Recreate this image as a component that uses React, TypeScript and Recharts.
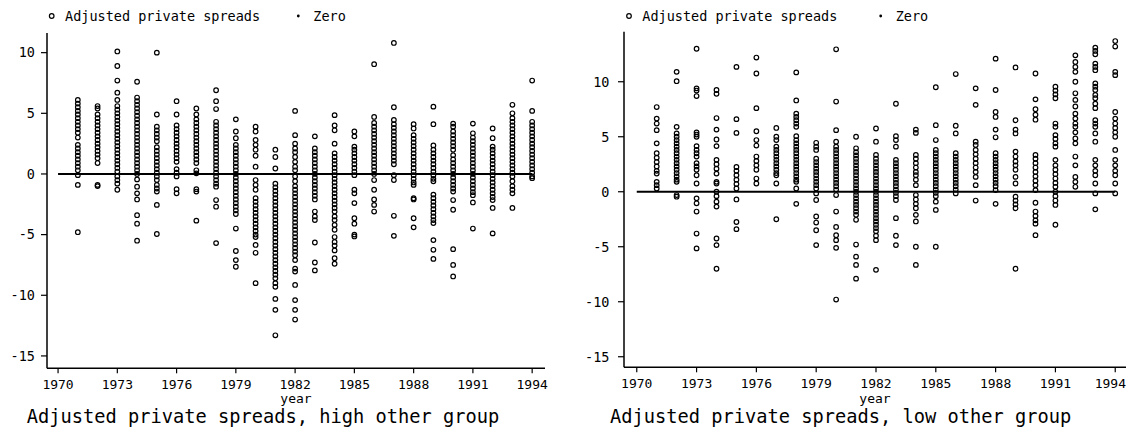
import React from 'react';
import { ScatterChart, Scatter, XAxis, YAxis } from 'recharts';

// Years with observations (one column of points per year)
const YEARS = [
  1971, 1972, 1973, 1974, 1975, 1976, 1977, 1978, 1979, 1980, 1981, 1982,
  1983, 1984, 1985, 1986, 1987, 1988, 1989, 1990, 1991, 1992, 1993, 1994,
];

// Years spanned by the zero reference line
const ZERO_YEARS = [
  1970, 1971, 1972, 1973, 1974, 1975, 1976, 1977, 1978, 1979, 1980, 1981, 1982,
  1983, 1984, 1985, 1986, 1987, 1988, 1989, 1990, 1991, 1992, 1993, 1994,
];

const YEAR_TICKS = [1970, 1973, 1976, 1979, 1982, 1985, 1988, 1991, 1994];
const SPREAD_TICKS = [-15, -10, -5, 0, 5, 10];

// Adjusted private spreads, high other group (one array per year)
const HIGH_OTHER: number[][] = [
  [6.1, 5.8, 5.5, 5.2, 4.9, 4.6, 4.3, 4.0, 3.7, 3.4, 3.0, 2.4, 2.1, 1.8, 1.5, 1.2, 0.9, 0.6, 0.3, -0.1, -0.9, -4.8],
  [5.6, 5.4, 4.9, 4.6, 4.3, 4.0, 3.7, 3.4, 3.1, 2.8, 2.5, 2.2, 1.9, 1.6, 1.3, 0.9, -0.9, -1.0],
  [10.1, 8.9, 7.7, 6.7, 6.1, 5.6, 5.3, 5.0, 4.7, 4.4, 4.1, 3.8, 3.5, 3.2, 2.9, 2.6, 2.3, 2.0, 1.7, 1.4, 1.1, 0.8, 0.5, 0.2, -0.2, -0.5, -0.8, -1.3],
  [7.6, 6.3, 6.0, 5.7, 5.4, 5.1, 4.8, 4.5, 4.2, 3.9, 3.6, 3.3, 3.0, 2.7, 2.4, 2.1, 1.8, 1.5, 1.2, 0.9, 0.6, 0.3, 0.0, -0.45, -1.05, -1.6, -2.1, -3.4, -4.1, -5.5],
  [10.0, 4.9, 3.9, 3.6, 3.3, 3.0, 2.7, 2.2, 1.9, 1.6, 1.3, 1.0, 0.7, 0.4, 0.1, -0.2, -0.5, -0.9, -1.2, -1.45, -2.55, -4.95],
  [6.0, 4.9, 4.0, 3.7, 3.4, 3.1, 2.8, 2.5, 2.2, 1.9, 1.6, 1.3, 1.0, 0.4, 0.1, -0.2, -1.25, -1.6],
  [5.4, 4.9, 4.5, 4.2, 3.9, 3.6, 3.3, 3.0, 2.7, 2.4, 2.1, 1.8, 1.5, 1.2, 0.9, 0.3, 0.05, -1.25, -1.45, -3.85],
  [6.9, 6.0, 5.35, 4.3, 4.0, 3.7, 3.4, 3.1, 2.8, 2.5, 2.2, 1.9, 1.6, 1.3, 1.0, 0.7, 0.4, 0.1, -0.2, -0.5, -0.8, -1.05, -2.15, -2.7, -5.7],
  [4.5, 3.5, 2.95, 2.4, 2.1, 1.8, 1.5, 1.2, 0.9, 0.6, 0.3, 0.0, -0.3, -0.6, -0.9, -1.2, -1.5, -1.8, -2.1, -2.4, -2.7, -3.0, -3.3, -4.5, -6.35, -7.1, -7.65],
  [3.9, 3.5, 2.8, 2.4, 2.0, 1.5, 0.6, -0.5, -0.9, -1.3, -2.0, -2.3, -2.6, -2.9, -3.2, -3.5, -3.8, -4.1, -4.4, -4.7, -5.0, -5.2, -5.85, -6.5, -9.0],
  [2.0, 1.4, 0.45, -0.8, -1.1, -1.4, -1.7, -2.0, -2.3, -2.6, -2.9, -3.2, -3.5, -3.8, -4.1, -4.4, -4.7, -5.0, -5.3, -5.6, -5.9, -6.2, -6.5, -6.8, -7.1, -7.4, -7.7, -8.0, -8.3, -8.6, -9.0, -9.3, -10.3, -11.2, -13.3],
  [5.2, 3.2, 2.5, 2.1, 1.8, 1.4, 1.0, 0.6, 0.3, -0.2, -0.6, -1.0, -1.3, -1.6, -1.9, -2.2, -2.5, -2.8, -3.1, -3.4, -3.7, -4.0, -4.3, -4.6, -4.9, -5.2, -5.5, -5.8, -6.1, -6.4, -6.7, -7.1, -7.8, -8.05, -9.15, -10.4, -11.2, -12.0],
  [3.1, 2.1, 1.8, 1.5, 1.2, 0.9, 0.6, 0.3, 0.0, -0.3, -0.6, -0.9, -1.2, -1.5, -1.8, -2.1, -3.1, -3.5, -3.8, -5.65, -7.3, -7.95],
  [4.85, 4.0, 3.6, 2.5, 1.7, 1.4, 1.1, 0.8, 0.5, 0.2, -0.1, -0.4, -0.7, -1.0, -1.3, -1.6, -1.9, -2.2, -2.5, -2.8, -3.1, -3.5, -3.8, -4.2, -4.6, -5.2, -5.6, -5.9, -6.3, -6.95, -7.4],
  [3.5, 3.1, 2.25, 2.0, 1.7, 1.4, 1.1, 0.8, 0.5, 0.2, -0.1, -1.3, -1.6, -2.4, -3.65, -4.1, -5.0, -5.15],
  [9.05, 4.7, 4.2, 3.9, 3.6, 3.3, 3.0, 2.7, 2.4, 2.1, 1.8, 1.5, 1.2, 0.9, 0.6, 0.3, 0.0, -0.5, -1.3, -2.1, -2.55, -3.1],
  [10.8, 5.5, 4.45, 4.1, 3.8, 3.5, 3.2, 2.9, 2.6, 2.3, 2.0, 1.7, 1.4, 1.1, 0.8, -0.1, -0.5, -3.45, -5.1],
  [4.1, 3.75, 3.2, 2.9, 2.6, 2.3, 2.0, 1.7, 1.4, 1.1, 0.8, 0.5, 0.2, -0.1, -0.4, -0.7, -0.9, -2.0, -2.1, -3.65, -4.4],
  [5.55, 4.1, 2.35, 2.0, 1.7, 1.4, 1.1, 0.8, 0.5, 0.2, -0.1, -0.4, -0.6, -1.7, -2.0, -2.3, -2.6, -2.9, -3.2, -3.5, -3.8, -4.05, -5.45, -6.25, -7.0],
  [4.15, 3.9, 3.5, 3.2, 2.9, 2.6, 2.3, 2.0, 1.55, 1.2, 0.9, 0.6, 0.3, 0.0, -0.3, -0.6, -0.9, -1.2, -1.45, -2.15, -2.95, -6.2, -7.5, -8.45],
  [4.15, 3.35, 3.0, 2.7, 2.4, 2.1, 1.8, 1.5, 1.2, 0.9, 0.6, 0.3, 0.0, -0.3, -0.6, -0.9, -1.2, -1.5, -1.75, -2.35, -4.5],
  [3.75, 2.95, 2.25, 2.0, 1.7, 1.4, 1.1, 0.8, 0.5, 0.2, -0.1, -0.4, -0.7, -1.0, -1.3, -1.6, -1.9, -2.15, -2.8, -4.9],
  [5.7, 5.0, 4.6, 4.3, 4.0, 3.7, 3.4, 3.1, 2.8, 2.5, 2.2, 1.9, 1.6, 1.3, 1.0, 0.7, 0.4, 0.1, -0.2, -0.6, -1.0, -1.3, -1.6, -2.8],
  [7.7, 5.2, 4.3, 4.0, 3.7, 3.4, 3.1, 2.8, 2.5, 2.2, 1.9, 1.6, 1.3, 1.0, 0.7, 0.4, 0.1, -0.2, -0.35],
];

// Adjusted private spreads, low other group (one array per year)
const LOW_OTHER: number[][] = [
  [7.7, 6.65, 6.2, 5.6, 4.4, 3.5, 3.1, 2.7, 2.3, 1.9, 1.65, 0.9, 0.6, 0.3],
  [10.9, 10.05, 5.9, 5.3, 5.0, 4.7, 4.4, 4.1, 3.8, 3.5, 3.2, 2.9, 2.6, 2.3, 2.0, 1.7, 1.4, 1.1, 0.9, -0.3, -0.45],
  [13.0, 9.4, 9.2, 8.7, 5.4, 5.2, 5.0, 4.15, 3.8, 3.5, 3.2, 2.6, 2.3, 2.0, 1.5, 0.75, -0.6, -1.05, -1.8, -3.8, -5.15],
  [9.25, 8.9, 6.7, 5.65, 4.75, 4.15, 2.9, 2.5, 2.1, 1.65, 0.9, 0.75, 0.0, -0.4, -0.9, -1.35, -4.25, -4.85, -7.0],
  [11.35, 6.6, 5.35, 2.25, 1.9, 1.5, 1.1, 0.7, 0.3, -0.7, -2.75, -3.4],
  [12.2, 10.75, 7.6, 5.5, 4.7, 4.2, 3.2, 2.8, 2.4, 2.0, 1.2, 0.75],
  [5.8, 5.0, 4.7, 4.1, 3.8, 3.5, 3.2, 2.9, 2.6, 2.3, 2.0, 1.7, 1.5, 0.75, -2.5],
  [10.85, 8.3, 7.1, 6.8, 6.5, 6.2, 5.9, 5.05, 4.7, 4.4, 4.1, 3.8, 3.5, 3.2, 2.9, 2.6, 2.3, 2.0, 1.7, 1.4, 1.1, 0.9, 0.3, -1.1],
  [4.45, 4.1, 3.8, 3.0, 2.7, 2.4, 2.1, 1.8, 1.5, 1.2, 0.9, 0.6, 0.3, -0.15, -0.75, -2.25, -2.8, -3.5, -4.85],
  [12.95, 8.2, 5.6, 4.55, 4.1, 3.8, 3.5, 3.2, 2.9, 2.6, 2.3, 2.0, 1.7, 1.4, 1.1, 0.8, 0.5, 0.2, -0.3, -1.8, -3.2, -3.95, -4.4, -5.1, -9.8],
  [5.0, 3.95, 3.6, 3.3, 3.0, 2.7, 2.4, 2.1, 1.8, 1.5, 1.2, 0.9, 0.6, 0.3, 0.0, -0.3, -0.6, -0.9, -1.2, -1.5, -1.8, -2.1, -2.55, -4.8, -5.9, -6.65, -7.9],
  [5.75, 4.55, 3.35, 3.0, 2.7, 2.4, 2.1, 1.8, 1.5, 1.2, 0.9, 0.6, 0.3, 0.0, -0.3, -0.6, -0.9, -1.2, -1.5, -1.8, -2.1, -2.4, -2.7, -3.0, -3.3, -3.6, -4.0, -4.4, -7.1],
  [8.0, 5.05, 4.7, 4.1, 2.9, 2.6, 2.3, 2.0, 1.7, 1.4, 1.1, 0.8, 0.5, 0.2, -0.1, -0.4, -0.75, -2.4, -4.0, -4.85],
  [5.65, 5.35, 3.35, 3.0, 2.6, 2.2, 1.8, 1.5, 1.1, 0.6, -0.3, -0.7, -1.1, -1.5, -2.1, -2.7, -5.0, -6.65],
  [9.5, 6.05, 4.7, 3.8, 3.5, 3.2, 2.9, 2.6, 2.3, 2.0, 1.7, 1.4, 1.1, 0.8, 0.5, 0.2, -0.1, -0.4, -0.9, -1.65, -5.0],
  [10.7, 6.0, 5.3, 3.5, 3.2, 2.9, 2.6, 2.3, 2.0, 1.7, 1.4, 1.1, 0.8, 0.5, 0.2, -0.15],
  [9.4, 7.9, 4.55, 4.25, 3.8, 3.4, 3.0, 2.6, 2.2, 1.8, 1.35, 0.6, -0.8],
  [12.1, 9.25, 7.25, 6.8, 5.65, 4.95, 3.5, 3.2, 2.9, 2.6, 2.3, 2.0, 1.7, 1.4, 1.1, 0.8, 0.5, 0.15, -1.1],
  [11.3, 6.5, 5.65, 5.3, 3.65, 3.2, 2.75, 2.4, 2.0, 1.35, 0.75, -0.45, -0.8, -1.15, -1.5, -7.0],
  [10.75, 8.4, 7.5, 7.0, 6.55, 3.35, 3.0, 2.6, 2.2, 1.8, 1.4, 1.0, 0.6, 0.15, -1.0, -1.8, -2.2, -2.6, -2.9, -3.95],
  [9.55, 9.2, 8.85, 8.5, 6.2, 5.9, 5.15, 4.8, 4.4, 4.1, 2.9, 2.4, 2.0, 1.6, 1.2, 0.8, 0.45, 0.0, -0.4, -0.8, -1.2, -3.0],
  [12.4, 11.8, 11.35, 10.9, 10.0, 8.95, 8.35, 7.75, 7.1, 6.65, 6.2, 5.9, 5.4, 4.85, 4.4, 3.2, 2.4, 1.35, 0.9, 0.45],
  [13.1, 12.8, 12.5, 11.65, 11.35, 11.05, 9.85, 9.55, 9.25, 8.8, 8.5, 8.0, 7.6, 6.5, 6.2, 5.9, 5.3, 4.55, 2.9, 2.4, 1.9, 1.5, 0.75, -0.15, -1.6],
  [13.7, 13.2, 10.9, 10.6, 7.25, 6.65, 6.2, 5.8, 5.4, 5.0, 3.8, 2.9, 2.4, 1.9, 1.5, 0.75, -0.15],
];

type Point = { year: number; spread: number };

const toPoints = (columns: number[][]): Point[] =>
  columns.flatMap((col, i) => col.map((v) => ({ year: YEARS[i], spread: v })));

const zeroLine: Point[] = ZERO_YEARS.map((y) => ({ year: y, spread: 0 }));

const FONT = '"DejaVu Sans Mono", "Liberation Mono", monospace';
const CHART_H = 429;
const YEAR_FONT = 13;
const YEAR_HALF_WIDTH = (4 * 0.602 * YEAR_FONT) / 2;

const HollowDot = (props: any) => {
  if (props.cx == null || props.cy == null) return <g />;
  return <circle cx={props.cx} cy={props.cy} r={2.3} fill="none" stroke="#000" strokeWidth={1.2} />;
};

const NoDot = () => <g />;

// Year label that is nudged left so it never runs past the chart's right edge
const YearTick = (props: any) => {
  const { x, y, payload, maxX } = props;
  const cx = Math.min(x, maxX - YEAR_HALF_WIDTH);
  return (
    <text x={cx} y={y} dy="0.71em" textAnchor="middle" fill="#000" fontSize={YEAR_FONT} fontFamily={FONT}>
      {payload.value}
    </text>
  );
};

type PanelProps = {
  left: number;
  width: number;
  yAxisWidth: number;
  marginRight: number;
  plotTop: number;
  plotBottom: number;
  xDomain: [number, number];
  yDomain: [number, number];
  yTickMargin: number;
  points: Point[];
};

function Panel(p: PanelProps) {
  return (
    <div style={{ position: 'absolute', left: p.left, top: 0 }}>
      <ScatterChart
        width={p.width}
        height={CHART_H}
        margin={{ top: p.plotTop, right: p.marginRight, bottom: 0, left: 0 }}
      >
        <XAxis
          dataKey="year"
          type="number"
          domain={p.xDomain}
          ticks={YEAR_TICKS}
          interval={0}
          allowDataOverflow
          height={CHART_H - p.plotBottom}
          tickSize={5}
          tickMargin={6}
          axisLine={{ stroke: '#000', strokeWidth: 1.5 }}
          tickLine={{ stroke: '#000', strokeWidth: 1.2 }}
          tick={(props: any) => <YearTick {...props} maxX={p.width} />}
        />
        <YAxis
          dataKey="spread"
          type="number"
          domain={p.yDomain}
          ticks={SPREAD_TICKS}
          interval={0}
          allowDataOverflow
          width={p.yAxisWidth}
          tickSize={6}
          tickMargin={p.yTickMargin}
          axisLine={{ stroke: '#000', strokeWidth: 1.5 }}
          tickLine={{ stroke: '#000', strokeWidth: 1.2 }}
          tick={{ fill: '#000', fontSize: 13.5, fontFamily: FONT }}
        />
        <Scatter
          name="Zero"
          data={zeroLine}
          line={{ stroke: '#000', strokeWidth: 2 }}
          shape={NoDot}
          isAnimationActive={false}
        />
        <Scatter
          name="Adjusted private spreads"
          data={p.points}
          shape={HollowDot}
          isAnimationActive={false}
        />
      </ScatterChart>
    </div>
  );
}

function Legend({ x, zeroX }: { x: number; zeroX: number }) {
  return (
    <g fontFamily={FONT} fontSize={13.5} fill="#000">
      <circle cx={x} cy={16} r={2.3} fill="none" stroke="#000" strokeWidth={1.2} />
      <text x={x + 13.3} y={20.5}>Adjusted private spreads</text>
      <circle cx={zeroX} cy={16} r={1.4} fill="#000" />
      <text x={zeroX + 15} y={20.5}>Zero</text>
    </g>
  );
}

export default function App() {
  return (
    <div style={{ position: 'absolute', left: 0, top: 0, width: 1126, height: CHART_H, background: '#fff', overflow: 'hidden' }}>
      <Panel
        left={0}
        width={560}
        yAxisWidth={47}
        marginRight={15}
        plotTop={33}
        plotBottom={368.3}
        xDomain={[1969.44, 1994.65]}
        yDomain={[-16.02, 11.62]}
        yTickMargin={6}
        points={toPoints(HIGH_OTHER)}
      />
      <Panel
        left={560}
        width={566}
        yAxisWidth={64}
        marginRight={0}
        plotTop={31.7}
        plotBottom={367.3}
        xDomain={[1969.36, 1994.54]}
        yDomain={[-15.96, 14.55]}
        yTickMargin={8.5}
        points={toPoints(LOW_OTHER)}
      />
      <svg width={1126} height={CHART_H} style={{ position: 'absolute', left: 0, top: 0, pointerEvents: 'none' }}>
        <Legend x={51.7} zeroX={298.3} />
        <Legend x={629} zeroX={880.7} />
        <g fontFamily={FONT} fill="#000">
          <text x={296} y={403.3} fontSize={13} textAnchor="middle">year</text>
          <text x={875} y={403.3} fontSize={13} textAnchor="middle">year</text>
          <text x={26.8} y={423} fontSize={18.7}>Adjusted private spreads, high other group</text>
          <text x={610} y={423} fontSize={18.7}>Adjusted private spreads, low other group</text>
        </g>
      </svg>
    </div>
  );
}
